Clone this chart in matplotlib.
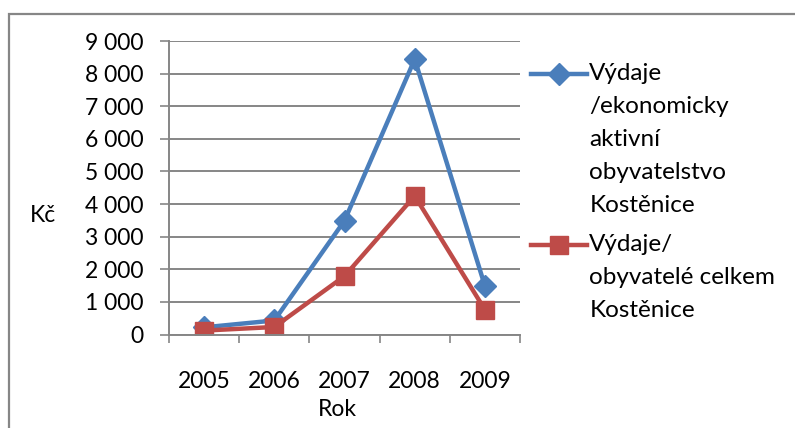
import numpy as np
import matplotlib
matplotlib.use("Agg")
import matplotlib.pyplot as plt
from matplotlib.patches import Rectangle
from matplotlib.legend_handler import HandlerLine2D

plt.rcParams['font.family'] = ['Lato', 'DejaVu Sans']

years = ["2005", "2006", "2007", "2008", "2009"]
vydaje_aktivni = [220, 430, 3490, 8440, 1490]
vydaje_celkem = [120, 230, 1790, 4250, 760]
label_aktivni = "Výdaje\n/ekonomicky\naktivní\nobyvatelstvo\nKostěnice"
label_celkem = "Výdaje/\nobyvatelé celkem\nKostěnice"
yticks = [0, 1000, 2000, 3000, 4000, 5000, 6000, 7000, 8000, 9000]

blue = "#4A7EBB"
red = "#BE4B48"
gray = "#868686"
fs = 16.5
fs_leg = 17.5

W, H = 795, 428
fig = plt.figure(figsize=(W / 100, H / 100), dpi=100)

# chart border (runs off the right and bottom edge)
fig.patches.append(Rectangle((9 / W, -0.5), 2, 1.5 - 14 / H, transform=fig.transFigure,
                             fill=False, edgecolor=gray, lw=1.6))

ax = fig.add_axes([169 / W, (H - 334.5) / H, (520 - 169) / W, (334.5 - 41) / H])
x = np.arange(len(years))

ax.plot(x, vydaje_aktivni, color=blue, lw=3.2, marker="D", ms=11, label=label_aktivni)
ax.plot(x, vydaje_celkem, color=red, lw=3.2, marker="s", ms=13, label=label_celkem)

ax.set_xlim(-0.5, len(years) - 0.5)
ax.set_ylim(0, 9000)
ax.set_yticks(yticks)
ax.set_yticklabels([f"{v:,}".replace(",", " ") for v in yticks])
ax.yaxis.grid(True, color=gray, lw=1.4)
ax.set_axisbelow(True)

ax.set_xticks(np.arange(-0.5, len(years)))
ax.set_xticklabels([])
ax.set_xticks(x, minor=True)
ax.set_xticklabels(years, minor=True)
ax.tick_params(axis="x", which="major", length=6, width=1.2, color=gray, direction="out")
ax.tick_params(axis="x", which="minor", length=0, pad=26, labelsize=fs)
ax.tick_params(axis="y", length=6.5, width=1.2, color=gray, pad=12, labelsize=fs)

for s in ["top", "right"]:
    ax.spines[s].set_visible(False)
for s in ["left", "bottom"]:
    ax.spines[s].set_color(gray)
    ax.spines[s].set_linewidth(1.4)

ax.set_ylabel("Kč", rotation=0, fontsize=fs, va="center", ha="center")
ax.yaxis.set_label_coords((43 - 169) / 351, (334.5 - 215) / 293.5)
ax.set_xlabel("Rok", fontsize=fs, va="center", ha="center")
ax.xaxis.set_label_coords((337 - 169) / 351, (334.5 - 410) / 293.5)


class TopLineHandler(HandlerLine2D):
    # put the legend key level with the first text line, as Excel does
    def __init__(self, shift, **kw):
        super().__init__(**kw)
        self.shift = shift

    def create_artists(self, legend, orig_handle, xdescent, ydescent, width, height, fontsize, trans):
        arts = super().create_artists(legend, orig_handle, xdescent, ydescent, width, height, fontsize, trans)
        for a in arts:
            a.set_ydata(np.asarray(a.get_ydata()) + self.shift)
        return arts


line_pt = 23.4
handles, labels = ax.get_legend_handles_labels()
leg = fig.legend(handles, labels, loc="upper left", bbox_to_anchor=(531 / W, 1 - 63 / H),
                 frameon=False, fontsize=fs_leg, numpoints=1, borderpad=0, borderaxespad=0,
                 handlelength=2.3, handletextpad=0.1, labelspacing=0.75,
                 handler_map={handles[0]: TopLineHandler(2 * line_pt),
                              handles[1]: TopLineHandler(1 * line_pt)})
for t in leg.get_texts():
    t.set_linespacing(1.7)

fig.savefig("out.png", dpi=100)
